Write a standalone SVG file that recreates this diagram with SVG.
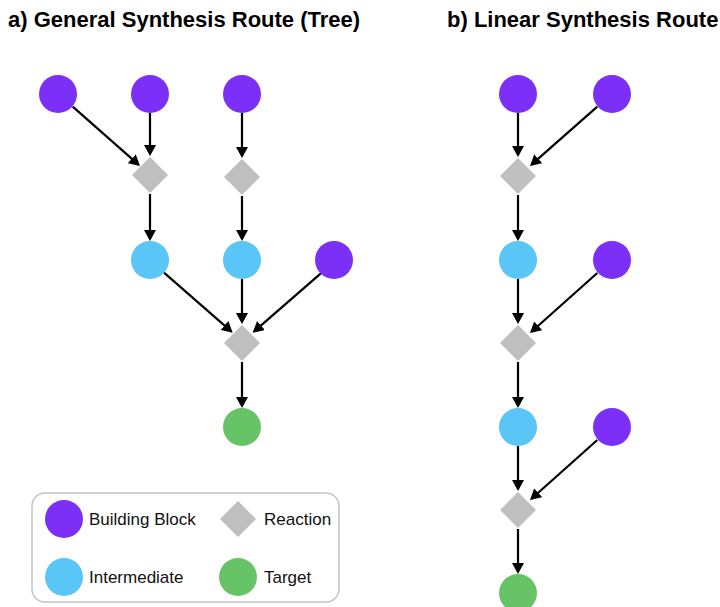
<svg xmlns="http://www.w3.org/2000/svg" width="720" height="607" viewBox="0 0 720 607">
<style>
.title{font-family:"Liberation Sans",Arial,sans-serif;font-weight:bold;font-size:22px;fill:#000}
.lbl{font-family:"Liberation Sans",Arial,sans-serif;font-size:17px;fill:#111}
.bb{fill:#7b2ff7}
.im{fill:#5ac5f7}
.tg{fill:#66c466}
.rx{fill:#bfbfbf}
.e line{stroke:#000;stroke-width:2.2;marker-end:url(#ah)}
</style>
<defs>
<marker id="ah" markerUnits="userSpaceOnUse" markerWidth="12" markerHeight="12" refX="9" refY="6" orient="auto">
<path d="M0,0 L11,6 L0,12 z" fill="#000"/>
</marker>
<path id="dm" d="M0,-18 L18,0 L0,18 L-18,0 z"/>
</defs>
<rect width="720" height="607" fill="#fff"/>
<text class="title" x="8" y="27">a) General Synthesis Route (Tree)</text>
<text class="title" x="447" y="27">b) Linear Synthesis Route</text>

<g id="edges" class="e">
<line x1="72.7" y1="106.7" x2="138.5" y2="164.7"/>
<line x1="150" y1="113" x2="150" y2="154"/>
<line x1="242" y1="113" x2="242" y2="156"/>
<line x1="150" y1="194" x2="150" y2="239"/>
<line x1="242" y1="196" x2="242" y2="239"/>
<line x1="164" y1="272.7" x2="231.2" y2="331.4"/>
<line x1="242" y1="279" x2="242" y2="322"/>
<line x1="321.7" y1="272.7" x2="254.2" y2="331.4"/>
<line x1="242" y1="362" x2="242" y2="406"/>

<line x1="518" y1="113" x2="518" y2="155"/>
<line x1="597.3" y1="106.7" x2="531.5" y2="164.7"/>
<line x1="518" y1="195" x2="518" y2="239"/>
<line x1="518" y1="279" x2="518" y2="322"/>
<line x1="597.3" y1="273" x2="531.5" y2="331.7"/>
<line x1="518" y1="362" x2="518" y2="406"/>
<line x1="518" y1="446" x2="518" y2="489"/>
<line x1="597.3" y1="440" x2="531.5" y2="498.7"/>
<line x1="518" y1="529" x2="518" y2="572"/>
</g>

<g id="a_bb1"><circle class="bb" cx="58" cy="94" r="19"/></g>
<g id="a_bb2"><circle class="bb" cx="150" cy="94" r="19"/></g>
<g id="a_bb3"><circle class="bb" cx="242" cy="94" r="19"/></g>
<g id="a_r1"><use href="#dm" class="rx" x="150" y="175"/></g>
<g id="a_r2"><use href="#dm" class="rx" x="242" y="177"/></g>
<g id="a_im1"><circle class="im" cx="150" cy="260" r="19"/></g>
<g id="a_im2"><circle class="im" cx="242" cy="260" r="19"/></g>
<g id="a_bb4"><circle class="bb" cx="334" cy="260" r="19"/></g>
<g id="a_r3"><use href="#dm" class="rx" x="242" y="343"/></g>
<g id="a_tg"><circle class="tg" cx="242" cy="427" r="19"/></g>

<g id="b_bb1"><circle class="bb" cx="518" cy="94" r="19"/></g>
<g id="b_bb2"><circle class="bb" cx="612" cy="94" r="19"/></g>
<g id="b_r1"><use href="#dm" class="rx" x="518" y="176"/></g>
<g id="b_im1"><circle class="im" cx="518" cy="260" r="19"/></g>
<g id="b_bb3"><circle class="bb" cx="612" cy="260" r="19"/></g>
<g id="b_r2"><use href="#dm" class="rx" x="518" y="343"/></g>
<g id="b_im2"><circle class="im" cx="518" cy="427" r="19"/></g>
<g id="b_bb4"><circle class="bb" cx="612" cy="427" r="19"/></g>
<g id="b_r3"><use href="#dm" class="rx" x="518" y="510"/></g>
<g id="b_tg"><circle class="tg" cx="518" cy="593" r="19"/></g>

<g id="legend">
<rect x="32" y="493" width="307" height="109" rx="13" fill="#fff" stroke="#c4c4c4" stroke-width="1.5"/>
<circle class="bb" cx="64" cy="519" r="19"/>
<text class="lbl" x="89" y="525">Building Block</text>
<use href="#dm" class="rx" x="238" y="519"/>
<text class="lbl" x="264" y="525">Reaction</text>
<circle class="im" cx="64" cy="577" r="19"/>
<text class="lbl" x="89" y="583">Intermediate</text>
<circle class="tg" cx="238" cy="577" r="19"/>
<text class="lbl" x="264" y="583">Target</text>
</g>
</svg>
